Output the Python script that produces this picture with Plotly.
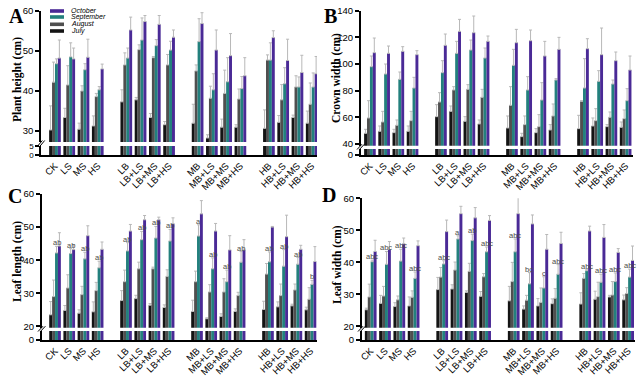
import plotly.graph_objects as go

categories = ["CK", "LS", "MS", "HS", "LB", "LB+LS", "LB+MS", "LB+HS",
              "MB", "MB+LS", "MB+MS", "MB+HS", "HB", "HB+LS", "HB+MS", "HB+HS"]
months = ["July", "August", "September", "October"]
colors = ["#141414", "#4f4f4f", "#23807d", "#4a2a96"]

# Panel A: plant height (cm)
height_jul = [30.3, 33.4, 30.5, 31.3, 37.3, 37.8, 33.4, 31.6, 32.0, 28.3, 31.0, 31.0, 30.7, 32.2, 33.4, 32.0]
height_aug = [42.2, 41.5, 40.0, 38.6, 46.5, 50.3, 48.3, 46.5, 45.0, 38.2, 39.4, 38.0, 47.7, 37.8, 41.0, 36.7]
height_sep = [46.8, 48.5, 45.3, 40.3, 48.2, 52.7, 51.3, 50.2, 52.3, 40.3, 42.3, 40.6, 47.7, 41.8, 41.0, 41.0]
height_oct = [48.2, 48.0, 48.4, 45.5, 55.2, 57.3, 56.6, 53.4, 56.8, 50.2, 48.8, 43.8, 53.3, 47.6, 44.6, 44.3]
height_jul_err = [6.0, 2.3, 1.5, 2.5, 3.0, 0.6, 1.0, 0.8, 4.7, 0.8, 2.0, 0.6, 4.6, 1.7, 0.6, 3.0]
height_aug_err = [5.0, 4.8, 1.3, 0.8, 3.0, 1.2, 0.3, 2.6, 1.5, 3.0, 5.8, 2.5, 1.3, 3.8, 2.8, 5.3]
height_sep_err = [1.2, 3.5, 1.5, 0.8, 2.5, 5.5, 1.5, 2.2, 5.7, 4.0, 6.0, 3.0, 4.3, 4.0, 2.5, 3.5]
height_oct_err = [4.5, 2.7, 4.5, 1.2, 3.2, 1.5, 2.2, 1.8, 2.7, 5.0, 5.5, 4.5, 1.7, 5.3, 4.3, 4.3]

# Panel B: crown width (cm)
crown_jul = [48.0, 49.5, 48.5, 49.5, 60.5, 64.5, 57.0, 55.0, 52.0, 45.5, 48.5, 50.5, 51.5, 53.5, 53.0, 52.5]
crown_aug = [59.5, 56.5, 54.0, 57.5, 71.5, 80.5, 81.0, 75.0, 69.0, 54.5, 53.0, 61.0, 72.0, 57.5, 60.0, 59.0]
crown_sep = [98.0, 92.5, 88.5, 82.0, 93.5, 108.0, 110.5, 104.5, 99.0, 80.5, 73.0, 88.0, 82.0, 87.0, 85.0, 72.5]
crown_oct = [108.5, 108.0, 109.5, 107.0, 114.0, 124.5, 123.5, 117.0, 116.0, 117.5, 106.0, 111.0, 111.5, 107.0, 102.5, 95.5]
crown_jul_err = [3.0, 4.0, 2.5, 4.0, 9.0, 4.0, 3.5, 3.0, 9.0, 2.5, 3.0, 4.0, 10.0, 6.0, 1.5, 4.0]
crown_aug_err = [13.0, 8.0, 4.0, 7.0, 7.0, 2.5, 3.5, 6.0, 14.0, 6.5, 9.0, 9.0, 0.5, 9.0, 4.0, 6.5]
crown_sep_err = [8.0, 7.5, 5.5, 8.0, 9.0, 9.0, 7.5, 7.5, 12.0, 10.0, 13.0, 1.0, 22.0, 8.0, 3.0, 9.0]
crown_oct_err = [11.0, 5.5, 3.5, 3.0, 8.5, 9.0, 12.5, 4.0, 10.0, 8.0, 11.0, 9.0, 7.5, 20.0, 6.5, 10.5]

# Panel C: leaf length (cm)
length_jul = [23.5, 24.8, 24.0, 24.4, 27.8, 28.4, 26.4, 25.7, 24.5, 22.3, 23.0, 24.5, 25.1, 25.9, 26.2, 25.0]
length_aug = [29.0, 31.6, 29.6, 30.8, 33.5, 37.4, 37.4, 35.1, 33.5, 30.4, 30.4, 29.3, 35.8, 29.3, 31.0, 28.2]
length_sep = [42.2, 42.0, 40.4, 37.7, 42.8, 46.2, 46.7, 45.8, 47.3, 37.4, 33.5, 39.4, 39.5, 38.2, 38.8, 32.7]
length_oct = [44.3, 43.2, 47.4, 43.3, 48.8, 52.2, 52.2, 51.0, 54.0, 48.8, 43.1, 43.1, 50.0, 47.1, 43.3, 39.6]
length_jul_err = [4.0, 1.5, 1.0, 3.0, 3.0, 1.0, 0.5, 0.8, 3.4, 0.3, 0.8, 0.8, 2.5, 1.5, 0.5, 0.8]
length_aug_err = [5.0, 4.0, 2.5, 2.5, 3.5, 2.0, 0.5, 2.0, 3.2, 2.2, 4.0, 1.0, 3.2, 3.5, 1.8, 3.5]
length_sep_err = [2.0, 1.5, 2.0, 2.0, 2.5, 2.5, 3.5, 3.5, 3.4, 3.3, 3.5, 3.2, 3.0, 5.0, 2.0, 1.2]
length_oct_err = [4.0, 1.5, 3.0, 2.2, 2.0, 1.3, 0.8, 1.8, 4.0, 2.3, 4.3, 3.1, 0.2, 6.5, 1.2, 4.5]
length_letters = ["ab", "ab", "ab", "ab", "ab", "ab", "ab", "ab",
                  "a", "ab", "ab", "ab", "ab", "ab", "ab", "b"]

# Panel D: leaf width (cm)
width_jul = [25.2, 27.2, 26.2, 26.4, 31.5, 31.7, 30.6, 29.4, 28.0, 25.4, 26.4, 27.1, 27.0, 28.5, 29.2, 28.3]
width_aug = [29.2, 29.5, 28.3, 29.1, 35.4, 37.6, 37.2, 35.5, 34.0, 28.2, 27.5, 28.8, 35.0, 29.3, 29.8, 30.3]
width_sep = [40.2, 39.4, 40.4, 35.0, 39.5, 47.3, 46.8, 43.3, 43.3, 33.3, 32.0, 36.3, 37.4, 33.8, 34.0, 35.4]
width_oct = [43.4, 44.0, 45.8, 45.2, 49.6, 55.2, 53.9, 53.1, 55.2, 52.0, 44.1, 45.9, 49.8, 47.8, 43.1, 40.6]
width_jul_err = [0.5, 2.5, 1.2, 2.8, 3.8, 1.3, 0.5, 1.5, 4.5, 1.0, 2.3, 1.5, 3.5, 2.5, 0.5, 1.5]
width_aug_err = [4.0, 3.0, 1.2, 2.0, 3.0, 2.5, 2.5, 1.0, 6.0, 1.5, 4.5, 3.0, 1.5, 4.5, 4.2, 1.8]
width_sep_err = [0.5, 4.0, 3.7, 2.0, 1.0, 1.0, 2.0, 1.5, 4.0, 3.5, 3.5, 3.0, 0.3, 2.5, 2.7, 2.5]
width_oct_err = [3.5, 2.5, 1.8, 1.5, 3.6, 2.3, 3.2, 1.5, 6.5, 2.8, 4.6, 3.5, 1.5, 4.0, 1.2, 4.5]
width_letters = ["abc", "abc", "abc", "abc", "abc", "a", "ab", "abc",
                 "abc", "bc", "c", "abc", "abc", "abc", "abc", "abc"]

W, H = 640, 377
BARGAP = 0.18


def px(x):
    return x / W


def py(y):
    return 1 - y / H


# cluster positions: 4 groups of 4 with a one-slot gap between groups
x_pos = [i + i // 4 for i in range(len(categories))]

panels = [
    dict(letter="A", title="Plant height (cm)",
         vals=[height_jul, height_aug, height_sep, height_oct],
         errs=[height_jul_err, height_aug_err, height_sep_err, height_oct_err],
         letters=None,
         xdom=(41, 317), xrange=(-0.98, 18.37),
         up=(10.7, 142.0), uprange=(27.3, 60), uptick=[30, 40, 50, 60],
         low=(146.0, 155.0), lowrange=(0, 5), lowtick=[0, 5], lowfont=8,
         title_xy=(17, 80), letter_xy=(16, 16)),
    dict(letter="B", title="Crown width (cm)",
         vals=[crown_jul, crown_aug, crown_sep, crown_oct],
         errs=[crown_jul_err, crown_aug_err, crown_sep_err, crown_oct_err],
         letters=None,
         xdom=(360.7, 633.3), xrange=(-0.65, 18.54),
         up=(10.7, 145.7), uprange=(38.7, 140), uptick=[40, 60, 80, 100, 120, 140],
         low=(149.0, 155.0), lowrange=(0, 5), lowtick=[0], lowfont=9.5,
         title_xy=(337, 78), letter_xy=(330.5, 16)),
    dict(letter="C", title="Leaf length (cm)",
         vals=[length_jul, length_aug, length_sep, length_oct],
         errs=[length_jul_err, length_aug_err, length_sep_err, length_oct_err],
         letters=length_letters,
         xdom=(41.7, 316.7), xrange=(-0.94, 18.43),
         up=(194.0, 327.7), uprange=(19.6, 60), uptick=[20, 30, 40, 50, 60],
         low=(331.0, 340.0), lowrange=(0, 5), lowtick=[0], lowfont=9.5,
         title_xy=(17, 262), letter_xy=(15, 196)),
    dict(letter="D", title="Leaf width (cm)",
         vals=[width_jul, width_aug, width_sep, width_oct],
         errs=[width_jul_err, width_aug_err, width_sep_err, width_oct_err],
         letters=width_letters,
         xdom=(361.7, 635), xrange=(-0.63, 18.48),
         up=(198.3, 327.7), uprange=(19.6, 60), uptick=[20, 30, 40, 50, 60],
         low=(331.0, 340.0), lowrange=(0, 5), lowtick=[0], lowfont=9.5,
         title_xy=(337, 265), letter_xy=(329, 195)),
]

fig = go.Figure()
layout = dict(
    template="none",
    width=W, height=H,
    margin=dict(l=0, r=0, t=0, b=0, pad=0, autoexpand=False),
    paper_bgcolor="white", plot_bgcolor="white",
    barmode="group", bargap=BARGAP, bargroupgap=0,
    showlegend=False,
    font=dict(family="Liberation Sans, Arial, sans-serif", color="black"),
)
annotations = []
shapes = []

axis_common = dict(showgrid=False, zeroline=False, showline=True, linecolor="black",
                   linewidth=1.5, ticks="outside", ticklen=4, tickwidth=1.5,
                   tickcolor="black", automargin=False)

for k, p in enumerate(panels):
    xn = "x" if k == 0 else f"x{k + 1}"
    yl_i, yu_i = 2 * k + 1, 2 * k + 2
    yl = "y" if yl_i == 1 else f"y{yl_i}"
    yu = f"y{yu_i}"
    xkey = "xaxis" if k == 0 else f"xaxis{k + 1}"
    ylkey = "yaxis" if yl_i == 1 else f"yaxis{yl_i}"
    yukey = f"yaxis{yu_i}"

    layout[xkey] = dict(
        domain=[px(p["xdom"][0]), px(p["xdom"][1])], range=list(p["xrange"]),
        anchor=yl, tickmode="array", tickvals=x_pos, ticktext=categories,
        tickangle=-45, showgrid=False, zeroline=False, showline=True,
        linecolor="black", linewidth=1.5, ticks="", automargin=False,
        tickfont=dict(family="Liberation Sans, Arial, sans-serif", size=9.5, color="black"),
    )
    layout[ylkey] = dict(axis_common, domain=[py(p["low"][1]), py(p["low"][0])],
                         range=list(p["lowrange"]), anchor=xn,
                         tickmode="array", tickvals=p["lowtick"],
                         tickfont=dict(family="Liberation Sans, Arial, sans-serif",
                                       size=p["lowfont"], color="black"))
    layout[yukey] = dict(axis_common, domain=[py(p["up"][1]), py(p["up"][0])],
                         range=list(p["uprange"]), anchor=xn,
                         tickmode="array", tickvals=p["uptick"],
                         tickfont=dict(family="Liberation Sans, Arial, sans-serif",
                                       size=9.5, color="black"))

    for m in range(4):
        # upper segment with error bars
        fig.add_trace(go.Bar(
            x=x_pos, y=p["vals"][m], name=months[m], xaxis=xn, yaxis=yu,
            marker=dict(color=colors[m], line=dict(width=0)),
            error_y=dict(type="data", array=p["errs"][m], arrayminus=[0] * len(categories),
                         symmetric=False, color="#b8b8b8", thickness=1, width=1.5),
            showlegend=False, cliponaxis=True,
        ))
        # lower (broken) segment
        fig.add_trace(go.Bar(
            x=x_pos, y=p["vals"][m], name=months[m], xaxis=xn, yaxis=yl,
            marker=dict(color=colors[m], line=dict(width=0)),
            showlegend=False, cliponaxis=True,
        ))

    # significance letters above September bars
    if p["letters"]:
        off = -(1 - BARGAP) / 2 + (1 - BARGAP) / 4 * 2.5
        for i, lab in enumerate(p["letters"]):
            annotations.append(dict(
                x=x_pos[i] + off, y=p["vals"][2][i] + p["errs"][2][i],
                xref=xn, yref=yu, text=lab, showarrow=False,
                yanchor="bottom", yshift=-3, xanchor="center",
                font=dict(family="Liberation Sans, Arial, sans-serif", size=7.5, color="#4a4a4a"),
            ))

    # y-axis title
    annotations.append(dict(
        x=px(p["title_xy"][0]), y=py(p["title_xy"][1]), xref="paper", yref="paper",
        text=f"<b>{p['title']}</b>", textangle=-90, showarrow=False,
        xanchor="center", yanchor="middle",
        font=dict(family="Liberation Serif, Times New Roman, serif", size=11.5, color="black"),
    ))
    # panel letter
    annotations.append(dict(
        x=px(p["letter_xy"][0]), y=py(p["letter_xy"][1]), xref="paper", yref="paper",
        text=f"<b>{p['letter']}</b>", showarrow=False, xanchor="center", yanchor="middle",
        font=dict(family="Liberation Serif, Times New Roman, serif", size=20, color="black"),
    ))
    # axis break marks "//"
    ax = p["xdom"][0]
    gt, gb = p["up"][1], p["low"][0]
    for d in (-1.2, 1.2):
        shapes.append(dict(type="line", xref="paper", yref="paper",
                           x0=px(ax - 2.5 + d), y0=py(gb + 0.5),
                           x1=px(ax + 2.5 + d), y1=py(gt - 1.5),
                           line=dict(color="black", width=1)))

# legend (manual, inside panel A)
leg_rows = [11.0, 17.0, 24.3, 31.0]
for r, m in enumerate([3, 2, 1, 0]):
    yc = leg_rows[r]
    shapes.append(dict(type="rect", xref="paper", yref="paper",
                       x0=px(50), x1=px(64), y0=py(yc + 1.8), y1=py(yc - 1.8),
                       fillcolor=colors[m], line=dict(width=0)))
    annotations.append(dict(
        x=px(69), y=py(yc), xref="paper", yref="paper", text=months[m],
        showarrow=False, xanchor="left", yanchor="middle",
        font=dict(family="Liberation Sans, Arial, sans-serif", size=7, color="black", style="italic"),
    ))

layout["annotations"] = annotations
layout["shapes"] = shapes
fig.update_layout(**layout)
fig.write_html(
    "out.html",
    config={"displayModeBar": False},
    post_script="document.body.style.margin='0';document.body.style.overflow='hidden';",
)
